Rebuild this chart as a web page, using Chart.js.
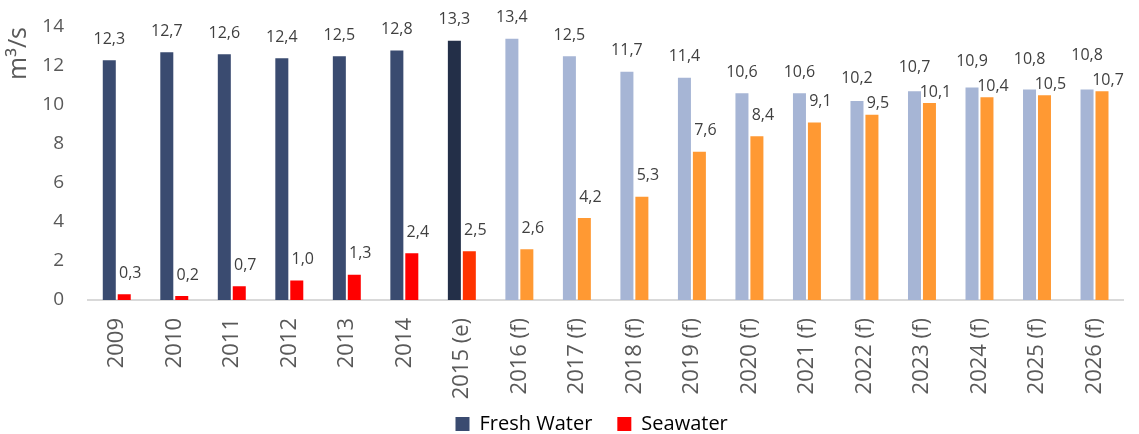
<!DOCTYPE html>
<html>
<head>
<meta charset="utf-8">
<script src="https://cdn.jsdelivr.net/npm/chart.js@4.4.1/dist/chart.umd.min.js"></script>
<style>
  html, body { margin: 0; padding: 0; background: #ffffff; }
  #wrap { width: 1139px; height: 434px; position: relative; }
</style>
</head>
<body>
<div id="wrap"><canvas id="chart" width="1139" height="434"></canvas></div>
<script>
// Categories: actual years, 2015 estimate, forecasts to 2026
const categories = ['2009', '2010', '2011', '2012', '2013', '2014', '2015 (e)',
  '2016 (f)', '2017 (f)', '2018 (f)', '2019 (f)', '2020 (f)', '2021 (f)',
  '2022 (f)', '2023 (f)', '2024 (f)', '2025 (f)', '2026 (f)'];

// Flow in m³/s
const freshWater = [12.3, 12.7, 12.6, 12.4, 12.5, 12.8, 13.3, 13.4, 12.5, 11.7,
  11.4, 10.6, 10.6, 10.2, 10.7, 10.9, 10.8, 10.8];
const seawater = [0.3, 0.2, 0.7, 1.0, 1.3, 2.4, 2.5, 2.6, 4.2, 5.3,
  7.6, 8.4, 9.1, 9.5, 10.1, 10.4, 10.5, 10.7];

const yTicks = [0, 2, 4, 6, 8, 10, 12, 14];

// Shade bars by period: actual, estimate, forecast
function periodColor(label, actual, estimate, forecast) {
  if (label.indexOf('(e)') >= 0) return estimate;
  if (label.indexOf('(f)') >= 0) return forecast;
  return actual;
}
const freshColors = categories.map(c => periodColor(c, '#3a4b70', '#232f48', '#a6b5d5'));
const seaColors = categories.map(c => periodColor(c, '#ff0000', '#ff3300', '#ff9933'));

const fmt = v => v.toFixed(1).replace('.', ',');

// Value labels above each bar (decimal comma). When the two labels of a
// category would collide, the seawater label drops toward its bar and the
// fresh-water label rises.
const valueLabels = {
  id: 'valueLabels',
  afterDatasetsDraw(chart) {
    const ctx = chart.ctx;
    const fresh = chart.getDatasetMeta(0).data;
    const sea = chart.getDatasetMeta(1).data;
    const lift = 21, minSep = 25, maxDrop = 10, seaShift = 6;
    ctx.save();
    ctx.font = '16px "Open Sans", sans-serif';
    ctx.fillStyle = '#404040';
    ctx.textAlign = 'center';
    ctx.textBaseline = 'middle';
    fresh.forEach((fEl, i) => {
      const sEl = sea[i];
      let fy = fEl.y - lift;
      let sy = sEl.y - lift;
      const gap = sy - fy;
      if (gap < minSep) {
        let need = minSep - gap;
        const drop = Math.min(need, maxDrop);
        sy += drop;
        need -= drop;
        fy -= need;
      }
      ctx.fillText(fmt(chart.data.datasets[0].data[i]), fEl.x, fy);
      ctx.fillText(fmt(chart.data.datasets[1].data[i]), sEl.x + seaShift, sy);
    });
    ctx.restore();
  }
};

// Let the long rotated category labels run past the axis box instead of
// being clipped, and nudge the legend a little to the left.
const layoutTweaks = {
  id: 'layoutTweaks',
  afterLayout(chart) {
    chart.scales.x.bottom = chart.height;
    const lg = chart.legend;
    if (lg) { lg.left -= 14; lg.right -= 14; }
  }
};

new Chart(document.getElementById('chart'), {
  type: 'bar',
  data: {
    labels: categories,
    datasets: [
      { label: 'Fresh Water', data: freshWater, backgroundColor: freshColors,
        categoryPercentage: 0.52, barPercentage: 0.87 },
      { label: 'Seawater', data: seawater, backgroundColor: seaColors,
        categoryPercentage: 0.52, barPercentage: 0.87 }
    ]
  },
  options: {
    responsive: false,
    animation: false,
    layout: { padding: { top: 27, right: 3, bottom: -10, left: 0 } },
    scales: {
      x: {
        grid: { display: false, drawTicks: false },
        border: { display: true, color: '#d9d9d9', width: 2 },
        ticks: {
          color: '#595959',
          font: { family: '"Open Sans", sans-serif', size: 22 },
          minRotation: 90, maxRotation: 90, padding: 18
        },
        afterFit(scale) { scale.height = 89; }
      },
      y: {
        min: 0, max: 14,
        afterBuildTicks(scale) { scale.ticks = yTicks.map(v => ({ value: v })); },
        grid: { display: false, drawTicks: false },
        border: { display: false },
        ticks: {
          color: '#595959',
          font: { family: '"Open Sans", sans-serif', size: 19 },
          padding: 24
        },
        title: {
          display: true, text: 'm³/s', color: '#595959', align: 'end',
          font: { family: '"Open Sans", sans-serif', size: 25 },
          padding: { top: 4, bottom: 0 }
        },
        afterFit(scale) {
          scale.width = 88;
          scale.paddingTop = 0;
          scale.paddingBottom = 0;
        }
      }
    },
    plugins: {
      legend: {
        position: 'bottom',
        fullSize: false,
        labels: {
          color: '#595959',
          font: { family: '"Open Sans", sans-serif', size: 20 },
          boxWidth: 14, boxHeight: 14, padding: 25,
          generateLabels(chart) {
            return chart.data.datasets.map((ds, i) => ({
              text: ds.label,
              fillStyle: i === 0 ? '#3a4b70' : '#ff0000',
              strokeStyle: 'transparent', lineWidth: 0,
              datasetIndex: i
            }));
          }
        }
      },
      tooltip: { enabled: false }
    }
  },
  plugins: [valueLabels, layoutTweaks]
});
</script>
</body>
</html>
